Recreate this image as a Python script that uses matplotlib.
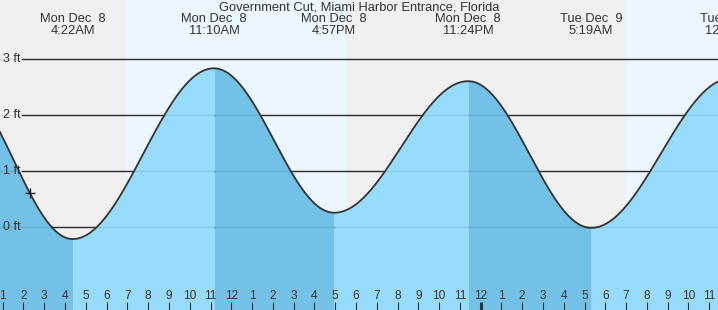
import numpy as np
import matplotlib.pyplot as plt
import matplotlib.transforms as mtransforms

plt.rcParams['font.family'] = ['Liberation Sans', 'DejaVu Sans']

title = "Government Cut, Miami Harbor Entrance, Florida"

# tide highs and lows, hours after midnight Mon Dec 8
ext_hours = [-1.3, 4.367, 11.167, 16.95, 23.4, 29.317, 36.05]
ext_ft = [2.6, -0.21, 2.84, 0.26, 2.61, -0.01, 2.66]
ext_day = ["Sun Dec  7", "Mon Dec  8", "Mon Dec  8", "Mon Dec  8",
           "Mon Dec  8", "Tue Dec  9", "Tue Dec  9"]
ext_time = ["10:42PM", "4:22AM", "11:10AM", "4:57PM", "11:24PM", "5:19AM", "12:03PM"]

# daylight
sunrise = [6.93, 30.93]
sunset = [17.52, 41.5]

now_hour = 2.31
grid_ft = [0, 1, 2, 3]
hours = list(range(1, 36))
hour_labels = [str((h - 1) % 12 + 1) for h in hours]

x0, x1 = 0.871, 35.42
y0, y1 = -1.477, 4.06

txt = '#333333'
night = '#f0f0f0'
day = '#ecf6fe'
water_up = '#97dcfd'
water_down = '#73c1e6'


def tide(t):
    t = np.asarray(t, dtype=float)
    i = np.clip(np.searchsorted(ext_hours, t) - 1, 0, len(ext_hours) - 2)
    ta = np.array(ext_hours)[i]
    tb = np.array(ext_hours)[i + 1]
    ha = np.array(ext_ft)[i]
    hb = np.array(ext_ft)[i + 1]
    f = (t - ta) / (tb - ta)
    return ha + (hb - ha) * (1 - np.cos(np.pi * f)) / 2


fig = plt.figure(figsize=(7.18, 3.10), dpi=100, facecolor=night)
ax = fig.add_axes([0, 0, 1, 1])
ax.set_xlim(x0, x1)
ax.set_ylim(y0, y1)
ax.axis('off')

for a, b in zip(sunrise, sunset):
    ax.axvspan(a, b, color=day, lw=0, zorder=0)

# grid lines
for g in grid_ft:
    ax.axhline(g, xmin=22 / 718, xmax=1, color='#333333', lw=1, zorder=1)
    ax.axhline(g, color='k', alpha=0.08, lw=1, zorder=3)

ytr = mtransforms.blended_transform_factory(ax.transAxes, ax.transData)
for g in grid_ft:
    ax.text(3 / 718, g, f"{g} ft", transform=ytr, ha='left', va='center',
            fontsize=9, color=txt)

# water, darker while falling
for i in range(len(ext_hours) - 1):
    ta, tb = ext_hours[i], ext_hours[i + 1]
    t = np.linspace(ta, tb, 200)
    col = water_down if ext_ft[i + 1] < ext_ft[i] else water_up
    ax.fill_between(t, tide(t), y0, color=col, lw=0, zorder=2)

tt = np.linspace(x0 - 1, x1 + 1, 2000)
ax.plot(tt, tide(tt), color='#333333', lw=1.3, zorder=4)

ax.plot([now_hour], [tide(now_hour)], marker='+', color='#222222',
        markersize=7, mew=1, zorder=5)

# hour ticks
xtr = mtransforms.blended_transform_factory(ax.transData, ax.transAxes)
for h, lab in zip(hours, hour_labels):
    lw = 2.2 if h % 24 == 0 else 0.8
    ax.plot([h, h], [0, 8 / 310], transform=xtr, color='#333333', lw=lw,
            solid_capstyle='butt', zorder=6)
    ax.text(h, 14 / 310, lab, transform=xtr, ha='center', va='center',
            fontsize=8.6, color=txt, zorder=6)

# extremes labels (only those from the chart's start on)
for h, d, tm in zip(ext_hours, ext_day, ext_time):
    if h < x0:
        continue
    ax.text(h, 1 - 19.5 / 310, d, transform=xtr, ha='center', va='center',
            fontsize=9.3, color=txt, clip_on=False)
    ax.text(h, 1 - 31.5 / 310, tm, transform=xtr, ha='center', va='center',
            fontsize=9.3, color=txt, clip_on=False)

ax.text(0.5, 1 - 8 / 310, title, transform=ax.transAxes, ha='center',
        va='center', fontsize=9.3, color=txt)

fig.savefig('out.png', dpi=100, facecolor=night)
